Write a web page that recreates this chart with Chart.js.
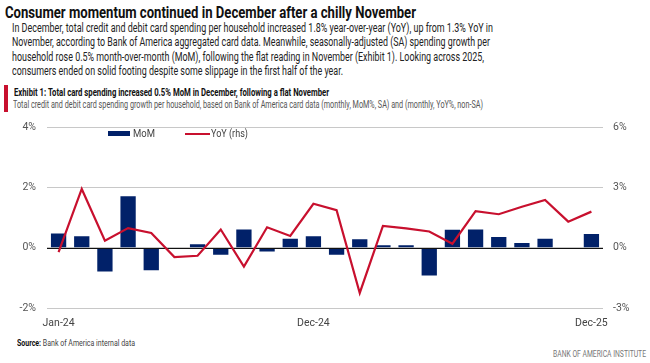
<!DOCTYPE html>
<html>
<head>
<meta charset="utf-8">
<script src="https://cdn.jsdelivr.net/npm/chart.js@4.4.1/dist/chart.umd.min.js"></script>
<style>
  html,body{margin:0;padding:0;background:#fff;}
  body{width:650px;height:363px;position:relative;overflow:hidden;font-family:Roboto,"Liberation Sans",sans-serif;color:#1a1a1a;}
  .abs{position:absolute;white-space:nowrap;transform-origin:0 50%;}
  #title{left:5px;top:2px;font-size:17px;font-weight:bold;color:#111;line-height:20px;}
  .body{left:12px;font-size:12px;line-height:14px;color:#222;}
  #redbar{left:4px;top:85px;width:4px;height:27px;background:#c8102e;}
  #ex{left:14px;top:86px;font-size:10.5px;font-weight:bold;line-height:13px;color:#111;}
  #sub{left:13px;top:98px;font-size:10.3px;line-height:13px;color:#555;}
  #chartbox{position:absolute;left:0;top:115px;width:650px;height:218px;}
  .leg{font-size:10.5px;color:#444;top:127px;line-height:13px;}
  #src{left:17px;top:338px;font-size:8.5px;color:#444;line-height:11px;}
  #brand{left:553px;top:349px;font-size:8.5px;color:#777;line-height:11px;}
</style>
</head>
<body>
<div id="title" class="abs fit" data-w="411">Consumer momentum continued in December after a chilly November</div>
<div class="abs body fit" data-w="481" style="top:21px">In December, total credit and debit card spending per household increased 1.8% year-over-year (YoY), up from 1.3% YoY in</div>
<div class="abs body fit" data-w="478" style="top:35px">November, according to Bank of America aggregated card data. Meanwhile, seasonally-adjusted (SA) spending growth per</div>
<div class="abs body fit" data-w="472" style="top:49.5px">household rose 0.5% month-over-month (MoM), following the flat reading in November (Exhibit 1). Looking across 2025,</div>
<div class="abs body fit" data-w="331" style="top:64px">consumers ended on solid footing despite some slippage in the first half of the year.</div>
<div id="redbar" class="abs"></div>
<div id="ex" class="abs fit" data-w="315">Exhibit 1: Total card spending increased 0.5% MoM in December, following a flat November</div>
<div id="sub" class="abs fit" data-w="470">Total credit and debit card spending growth per household, based on Bank of America card data (monthly, MoM%, SA) and (monthly, YoY%, non-SA)</div>
<div id="chartbox"><canvas id="c" width="650" height="218"></canvas></div>
<div class="abs" style="left:108px;top:131px;width:22px;height:5px;background:#012169;"></div>
<div class="abs leg fit" data-w="22" style="left:133px;">MoM</div>
<div class="abs" style="left:185px;top:133px;width:25px;height:2px;background:#c8102e;"></div>
<div class="abs leg fit" data-w="37" style="left:211px;">YoY (rhs)</div>
<div id="src" class="abs fit" data-w="118"><b style="color:#111">Source:</b> Bank of America internal data</div>
<div id="brand" class="abs fit" data-w="93">BANK OF AMERICA INSTITUTE</div>
<script>
const months = ["Jan-24","Feb-24","Mar-24","Apr-24","May-24","Jun-24","Jul-24","Aug-24","Sep-24","Oct-24","Nov-24","Dec-24",
                "Jan-25","Feb-25","Mar-25","Apr-25","May-25","Jun-25","Jul-25","Aug-25","Sep-25","Oct-25","Nov-25","Dec-25"];
const shownLabels = ["Jan-24","Dec-24","Dec-25"];
const momValues = [0.47,0.38,-0.79,1.71,-0.75,0.0,0.12,-0.23,0.61,-0.12,0.30,0.38,
                   -0.23,0.28,0.08,0.08,-0.92,0.60,0.61,0.36,0.16,0.30,0.0,0.46];
const yoyValues = [-0.22,2.93,0.35,0.98,0.74,-0.46,-0.40,0.91,-0.94,1.02,0.59,2.19,
                   1.87,-2.25,1.09,0.97,0.81,0.20,1.82,1.67,2.04,2.38,1.30,1.80];
const leftTicks = [-2,0,2,4];
const rightTicks = [-3,0,3,6];

document.querySelectorAll(".fit").forEach(el => {
  const w = el.getBoundingClientRect().width;
  const t = parseFloat(el.dataset.w);
  if (w > 0) el.style.transform = "scaleX(" + (t / w) + ")";
});

const NAVY = "#012169", RED = "#c8102e";
Chart.defaults.font.family = 'Roboto,"Liberation Sans",sans-serif';
Chart.defaults.font.size = 10.5;
Chart.defaults.color = "#555";

const zeroLine = {
  id: "zeroLine",
  afterDatasetDraw(chart, args) {
    if (args.index !== 0) return;
    const y = Math.round(chart.scales.y.getPixelForValue(0)) + 0.5;
    const ctx = chart.ctx, a = chart.chartArea;
    ctx.save();
    ctx.strokeStyle = "#111";
    ctx.lineWidth = 1.2;
    ctx.beginPath(); ctx.moveTo(a.left, y); ctx.lineTo(a.right, y); ctx.stroke();
    ctx.restore();
  }
};

const chart = new Chart(document.getElementById("c"), {
  data: {
    labels: months,
    datasets: [
      { type: "bar", label: "MoM", data: momValues, backgroundColor: NAVY, yAxisID: "y",
        barPercentage: 0.66, categoryPercentage: 1.0, order: 2 },
      { type: "line", label: "YoY (rhs)", data: yoyValues, borderColor: RED, borderWidth: 2.2,
        pointRadius: 0, tension: 0, yAxisID: "y1", order: 1 }
    ]
  },
  options: {
    responsive: false, maintainAspectRatio: false, animation: false,
    layout: { padding: { top: 8, bottom: 0, left: 0, right: 0 } },
    plugins: { legend: { display: false }, tooltip: { enabled: false } },
    scales: {
      x: {
        grid: { display: false, drawTicks: false },
        border: { display: false },
        ticks: { autoSkip: false, maxRotation: 0, padding: 9, color: "#444", font: { size: 10.5 },
          callback: function(v, i) { const l = months[i]; return shownLabels.includes(l) ? l : ""; } },
        afterFit: s => { s.height = 25; }
      },
      y: {
        position: "left", min: -2, max: 4,
        afterBuildTicks: s => { s.ticks = leftTicks.map(v => ({ value: v })); },
        grid: { color: "#c8c8c8", lineWidth: 1, drawTicks: false },
        border: { display: false },
        ticks: { padding: 11, color: "#555", callback: v => v + "%" },
        afterFit: s => { s.width = 47; }
      },
      y1: {
        position: "right", min: -3, max: 6,
        afterBuildTicks: s => { s.ticks = rightTicks.map(v => ({ value: v })); },
        grid: { drawOnChartArea: false, drawTicks: false },
        border: { display: false },
        ticks: { padding: 10, color: "#555", callback: v => v + "%" },
        afterFit: s => { s.width = 47; }
      }
    }
  },
  plugins: [zeroLine]
});

// place plot area: top gridline at y=127, bottom gridline at y=308 on the page
(function place() {
  const TOP = 127, BOTTOM = 308;
  const box = document.getElementById("chartbox");
  for (let k = 0; k < 3; k++) {
    const a = chart.chartArea;
    const diff = (BOTTOM - TOP) - (a.bottom - a.top);
    if (Math.abs(diff) < 0.5) break;
    const h = Math.round(chart.height + diff);
    box.style.height = h + "px";
    chart.resize(650, h);
  }
  box.style.top = (TOP - chart.chartArea.top) + "px";
  box.style.height = chart.height + "px";
})();
</script>
</body>
</html>
